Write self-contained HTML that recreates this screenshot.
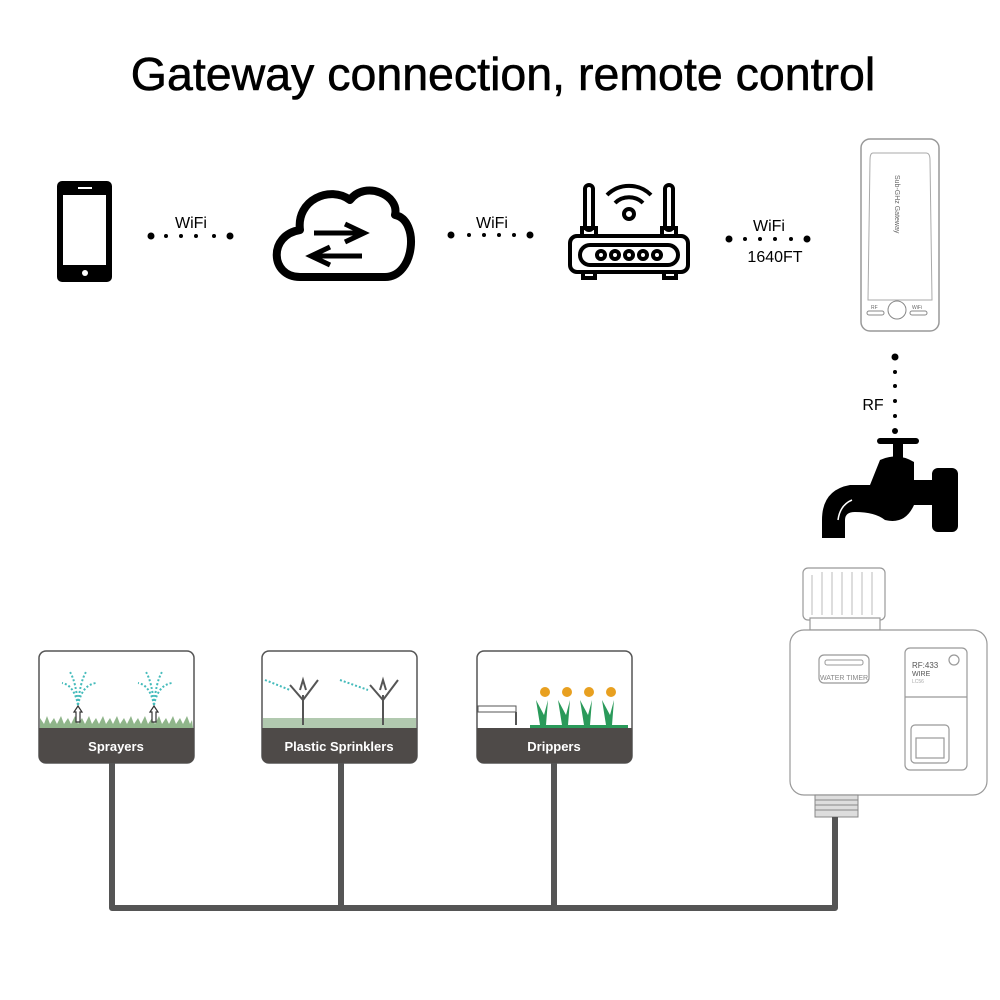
<!DOCTYPE html>
<html><head><meta charset="utf-8"><style>
html,body{margin:0;padding:0;background:#fff;}
svg{display:block;}
text{font-family:"Liberation Sans",sans-serif;}
</style></head><body>
<svg width="1000" height="1000" viewBox="0 0 1000 1000" xmlns="http://www.w3.org/2000/svg">
<rect width="1000" height="1000" fill="#fff"/>
<text x="503" y="90" font-size="46.5" text-anchor="middle" fill="#000" stroke="#000" stroke-width="0.6">Gateway connection, remote control</text>

<!-- phone -->
<rect x="57" y="181" width="55" height="101" rx="5" fill="#000"/>
<rect x="63" y="195" width="43" height="70" fill="#fff"/>
<rect x="78" y="187" width="14" height="2" fill="#fff"/>
<circle cx="85" cy="273" r="3" fill="#fff"/>

<!-- dots 1 -->
<g fill="#000">
<circle cx="151" cy="236" r="3.5"/><circle cx="166" cy="236" r="2"/><circle cx="181" cy="236" r="2"/><circle cx="196" cy="236" r="2"/><circle cx="214" cy="236" r="2"/><circle cx="230" cy="236" r="3.5"/>
</g>
<text x="191" y="228" font-size="16" text-anchor="middle">WiFi</text>

<!-- cloud -->
<path d="M300 277 C270 277 268 235 300 230 C296 200 330 185 350 200 C365 180 400 195 395 215 C420 220 415 277 385 277 Z" fill="none" stroke="#000" stroke-width="8" stroke-linejoin="round"/>
<g stroke="#000" stroke-width="5" fill="none">
<line x1="314" y1="233" x2="362" y2="233"/><polyline points="345,224 364,233 345,242"/>
<line x1="362" y1="256" x2="312" y2="256"/><polyline points="330,247 311,256 330,265"/>
</g>

<!-- dots 2 -->
<g fill="#000">
<circle cx="451" cy="235" r="3.5"/><circle cx="469" cy="235" r="2"/><circle cx="484" cy="235" r="2"/><circle cx="499" cy="235" r="2"/><circle cx="514" cy="235" r="2"/><circle cx="530" cy="235" r="3.5"/>
</g>
<text x="492" y="228" font-size="16" text-anchor="middle">WiFi</text>

<!-- router -->
<g stroke="#000" stroke-width="4" fill="none">
<rect x="570" y="236" width="118" height="36" rx="7"/>
<rect x="580" y="245" width="98" height="20" rx="10"/>
<rect x="585" y="185" width="8" height="45" rx="4"/>
<rect x="665" y="185" width="8" height="45" rx="4"/>
<rect x="582" y="228" width="14" height="8"/>
<rect x="662" y="228" width="14" height="8"/>
<rect x="583" y="272" width="12" height="6"/><rect x="664" y="272" width="12" height="6"/>
<circle cx="601" cy="255" r="4"/><circle cx="615" cy="255" r="4"/><circle cx="629" cy="255" r="4"/><circle cx="643" cy="255" r="4"/><circle cx="657" cy="255" r="4"/>
<circle cx="629" cy="214" r="5"/>
<path d="M615 203 A20 20 0 0 1 643 203"/>
<path d="M607 195 A31 31 0 0 1 651 195"/>
</g>

<!-- dots 3 -->
<g fill="#000">
<circle cx="729" cy="239" r="3.5"/><circle cx="745" cy="239" r="2"/><circle cx="760" cy="239" r="2"/><circle cx="775" cy="239" r="2"/><circle cx="791" cy="239" r="2"/><circle cx="807" cy="239" r="3.5"/>
</g>
<text x="769" y="231" font-size="16" text-anchor="middle">WiFi</text>
<text x="775" y="262" font-size="16" text-anchor="middle">1640FT</text>

<!-- gateway -->
<rect x="861" y="139" width="78" height="192" rx="9" fill="#fff" stroke="#999" stroke-width="1.5"/>
<path d="M873 153 L926 153 Q930 153 930 160 L932 300 L868 300 L870 160 Q870 153 873 153Z" fill="none" stroke="#aaa"/>
<text transform="translate(895,175) rotate(90)" font-size="7" fill="#666">Sub-GHz Gateway</text>
<circle cx="897" cy="310" r="9" fill="#fff" stroke="#888"/>
<rect x="867" y="311" width="17" height="4" rx="2" fill="none" stroke="#888"/>
<rect x="910" y="311" width="17" height="4" rx="2" fill="none" stroke="#888"/>
<text x="871" y="309" font-size="5" fill="#666">RF</text><text x="912" y="309" font-size="5" fill="#666">WiFi</text>

<!-- RF dots -->
<g fill="#000">
<circle cx="895" cy="357" r="3.5"/><circle cx="895" cy="372" r="2"/><circle cx="895" cy="386" r="2"/><circle cx="895" cy="401" r="2"/><circle cx="895" cy="416" r="2"/><circle cx="895" cy="431" r="3"/>
</g>
<text x="873" y="410" font-size="16" text-anchor="middle">RF</text>

<!-- faucet -->
<g fill="#000">
<rect x="877" y="438" width="42" height="6" rx="3"/>
<rect x="893" y="440" width="10" height="20"/>
<path d="M880 460 Q898 452 914 462 L914 480 L937 480 L937 505 L914 505 Q905 525 885 520 Q875 512 855 512 Q845 512 845 520 L845 538 L822 538 L822 520 Q822 490 850 485 L870 485 Z"/>
<rect x="932" y="468" width="26" height="64" rx="6"/>
</g>
<path d="M838 520 Q840 505 852 500" stroke="#fff" stroke-width="1.5" fill="none"/>

<!-- timer -->
<g stroke="#999" fill="#fff" stroke-width="1.2">
<rect x="803" y="568" width="82" height="52" rx="5"/>
<rect x="810" y="618" width="70" height="12"/>
<rect x="790" y="630" width="197" height="165" rx="14"/>
<rect x="819" y="655" width="50" height="28" rx="5"/>
<rect x="905" y="648" width="62" height="122" rx="5"/>
<line x1="905" y1="697" x2="967" y2="697"/>
<circle cx="954" cy="660" r="5"/>
<rect x="911" y="725" width="38" height="38" rx="4"/>
<rect x="916" y="738" width="28" height="20"/>
</g>
<g stroke="#bbb" stroke-width="1">
<line x1="812" y1="575" x2="812" y2="615"/><line x1="822" y1="572" x2="822" y2="615"/><line x1="832" y1="572" x2="832" y2="615"/><line x1="842" y1="572" x2="842" y2="615"/><line x1="852" y1="572" x2="852" y2="615"/><line x1="862" y1="572" x2="862" y2="615"/><line x1="872" y1="572" x2="872" y2="615"/>
</g>
<rect x="825" y="660" width="38" height="5" rx="2" fill="none" stroke="#999"/>
<text x="844" y="680" font-size="7" fill="#888" text-anchor="middle">WATER TIMER</text>
<text x="912" y="668" font-size="8" fill="#555">RF:433</text>
<text x="912" y="676" font-size="7" fill="#555">WIRE</text>
<text x="912" y="683" font-size="5" fill="#aaa">LC56</text>
<rect x="815" y="795" width="43" height="22" fill="#ddd" stroke="#888"/>
<g stroke="#888"><line x1="815" y1="800" x2="858" y2="800"/><line x1="815" y1="805" x2="858" y2="805"/><line x1="815" y1="810" x2="858" y2="810"/></g>

<!-- pipes -->
<path d="M112 763 L112 908 L835 908 L835 817" fill="none" stroke="#555" stroke-width="6" stroke-linejoin="round"/>
<line x1="341" y1="763" x2="341" y2="908" stroke="#555" stroke-width="6"/>
<line x1="554" y1="763" x2="554" y2="908" stroke="#555" stroke-width="6"/>

<!-- cards -->
<g>
<rect x="39" y="651" width="155" height="112" rx="7" fill="#fff" stroke="#555" stroke-width="1.5"/>
<path d="M39 728 H194 V756 Q194 763 187 763 H46 Q39 763 39 756Z" fill="#4e4a48"/>
<path d="M40 728 L40 718 l4 6 l3 -8 l3 8 l4 -6 l3 6 l4 -8 l3 8 l4 -6 l3 6 l4 -8 l3 8 l4 -6 l3 6 l4 -8 l3 8 l4 -6 l3 6 l4 -8 l3 8 l4 -6 l3 6 l4 -8 l3 8 l4 -6 l3 6 l4 -8 l3 8 l4 -6 l3 6 l4 -8 l3 8 l4 -6 l3 6 l4 -8 l3 8 l4 -6 l3 6 l4 -8 l3 8 l4 -6 l3 6 l4 -8 l3 8 l2 -4 L193 728Z" fill="#8fb58a"/>
<g fill="none" stroke="#4bb" stroke-width="2" stroke-dasharray="2 2">
<path d="M78 705 Q74 685 62 683"/><path d="M78 705 Q82 685 96 683"/><path d="M78 705 Q76 682 70 672"/><path d="M78 705 Q80 682 86 672"/>
<path d="M154 705 Q150 685 138 683"/><path d="M154 705 Q158 685 172 683"/><path d="M154 705 Q152 682 146 672"/><path d="M154 705 Q156 682 162 672"/>
</g>
<g fill="#fff" stroke="#333" stroke-width="1.2"><path d="M74 712 L78 706 L82 712 L80 712 L80 722 L76 722 L76 712Z"/><path d="M150 712 L154 706 L158 712 L156 712 L156 722 L152 722 L152 712Z"/></g>
<text x="116" y="751" font-size="13" font-weight="bold" fill="#fff" text-anchor="middle">Sprayers</text>

<rect x="262" y="651" width="155" height="112" rx="7" fill="#fff" stroke="#555" stroke-width="1.5"/>
<path d="M262 728 H417 V756 Q417 763 410 763 H269 Q262 763 262 756Z" fill="#4e4a48"/>
<rect x="263" y="718" width="153" height="10" fill="#7da57a" opacity="0.6"/>
<g fill="none" stroke="#555" stroke-width="2">
<path d="M303 725 V695 M290 685 L303 700 L318 680 M300 690 L303 680 L306 690"/>
<path d="M383 725 V695 M370 685 L383 700 L398 680 M380 690 L383 680 L386 690"/>
</g>
<g stroke="#4bb" stroke-width="2" stroke-dasharray="2 2"><line x1="265" y1="680" x2="290" y2="690"/><line x1="340" y1="680" x2="368" y2="690"/></g>
<text x="339" y="751" font-size="13" font-weight="bold" fill="#fff" text-anchor="middle">Plastic Sprinklers</text>

<rect x="477" y="651" width="155" height="112" rx="7" fill="#fff" stroke="#555" stroke-width="1.5"/>
<path d="M477 728 H632 V756 Q632 763 625 763 H484 Q477 763 477 756Z" fill="#4e4a48"/>
<rect x="478" y="706" width="38" height="6" fill="#fff" stroke="#555"/>
<line x1="516" y1="712" x2="516" y2="725" stroke="#555" stroke-width="2"/>
<g fill="#2a9a5a"><path d="M540 725 L536 700 L544 715 L548 700 L546 725Z"/><path d="M562 725 L558 700 L566 715 L570 700 L568 725Z"/><path d="M584 725 L580 700 L588 715 L592 700 L590 725Z"/><path d="M606 725 L602 700 L610 715 L614 700 L612 725Z"/></g>
<g fill="#e8a020"><circle cx="545" cy="692" r="5"/><circle cx="567" cy="692" r="5"/><circle cx="589" cy="692" r="5"/><circle cx="611" cy="692" r="5"/></g>
<rect x="530" y="725" width="98" height="3" fill="#2a9a5a"/>
<text x="554" y="751" font-size="13" font-weight="bold" fill="#fff" text-anchor="middle">Drippers</text>
</g>
</svg>
</body></html>
